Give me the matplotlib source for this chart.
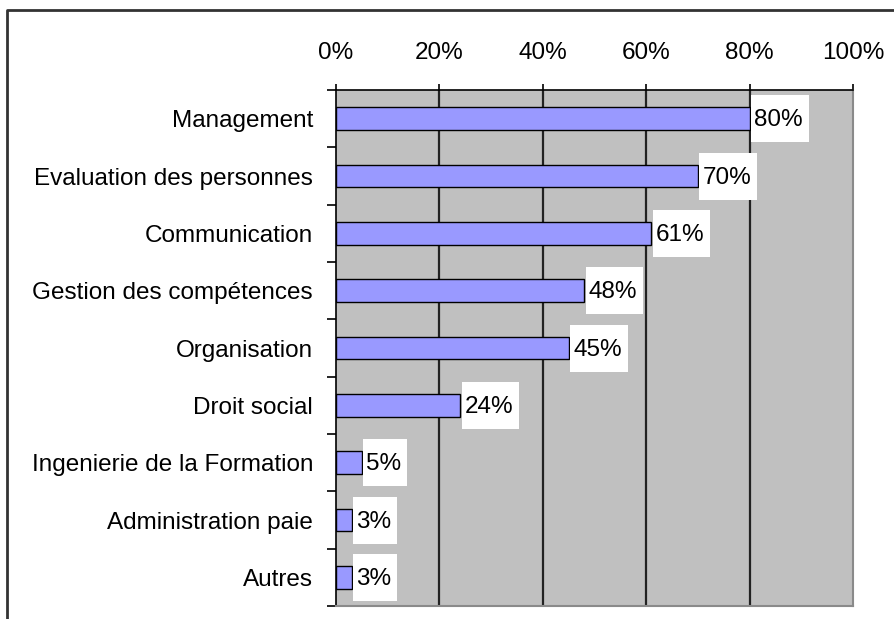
import matplotlib
matplotlib.use("Agg")
import matplotlib.pyplot as plt
from matplotlib.patches import Rectangle
from matplotlib.lines import Line2D
from matplotlib.ticker import FixedLocator

categories = ["Management", "Evaluation des personnes", "Communication",
              "Gestion des compétences", "Organisation", "Droit social",
              "Ingenierie de la Formation", "Administration paie", "Autres"]
values = [80, 70, 61, 48, 45, 24, 5, 3, 3]
xticks = [0, 20, 40, 60, 80, 100]
xtick_labels = ["0%", "20%", "40%", "60%", "80%", "100%"]

plt.rcParams['font.family'] = ['Liberation Sans', 'DejaVu Sans']
FS = 17.5

W, H = 894, 619
fig = plt.figure(figsize=(W / 100, H / 100), dpi=100)
fig.patch.set_facecolor("white")

ax_l, ax_r, ax_t, ax_b = 336, 853, 90, 606
ax = fig.add_axes([ax_l / W, (H - ax_b) / H, (ax_r - ax_l) / W, (ax_b - ax_t) / H])
ax.set_facecolor("#C0C0C0")

ypos = list(range(len(categories)))
bars = ax.barh(ypos, values, height=0.4, color="#9999FF", edgecolor="black",
               linewidth=1.0, zorder=3)

ax.set_xlim(0, 100)
ax.set_ylim(len(categories) - 0.5, -0.5)

# grid
for x in xticks[1:-1]:
    ax.axvline(x, color="#222222", linewidth=1.6, zorder=1)

# spines
for s in ("top", "left"):
    ax.spines[s].set_color("black")
    ax.spines[s].set_linewidth(1.2)
for s in ("right", "bottom"):
    ax.spines[s].set_color("#8a8a8a")
    ax.spines[s].set_linewidth(1.5)

# x ticks on top
ax.xaxis.tick_top()
ax.set_xticks(xticks)
ax.set_xticklabels(xtick_labels, fontsize=FS)
ax.tick_params(axis="x", which="major", direction="out", length=4, width=1.2,
               color="black", pad=14.5, top=True, bottom=False)

# y ticks
ax.set_yticks(ypos)
ax.set_yticklabels(categories, fontsize=FS)
ax.tick_params(axis="y", which="major", length=0, pad=16.5)
ax.yaxis.set_minor_locator(FixedLocator([i - 0.5 for i in range(len(categories) + 1)]))
ax.tick_params(axis="y", which="minor", direction="out", length=6.5, width=1.2,
               color="black", left=True)

# data labels
texts = []
for i, v in enumerate(values):
    t = ax.annotate(f"{v}%", xy=(v, i), xytext=(3.2, -1.2), textcoords="offset points",
                    ha="left", va="center", fontsize=FS, zorder=6, annotation_clip=False)
    texts.append(t)

fig.canvas.draw()
renderer = fig.canvas.get_renderer()
inv = ax.transData.inverted()
for i, (v, t) in enumerate(zip(values, texts)):
    bb = t.get_window_extent(renderer)
    bx, by = ax.transData.transform((v, i))
    x0 = bx + 1.5
    x1 = bb.x1 + 6
    y0 = by - 23.5
    y1 = by + 23.5
    (dx0, dy0) = inv.transform((x0, y0))
    (dx1, dy1) = inv.transform((x1, y1))
    rect = Rectangle((dx0, min(dy0, dy1)), dx1 - dx0, abs(dy1 - dy0),
                     facecolor="white", edgecolor="none", zorder=5, clip_on=False)
    ax.add_patch(rect)

# outer border (left and top)
bx_ = 7 / W
by_ = 1 - 9.5 / H
fig.add_artist(Line2D([bx_, bx_, 1.0], [0.0, by_, by_], transform=fig.transFigure,
                      color="#333333", linewidth=2.0))

fig.savefig("out.png", dpi=100)
